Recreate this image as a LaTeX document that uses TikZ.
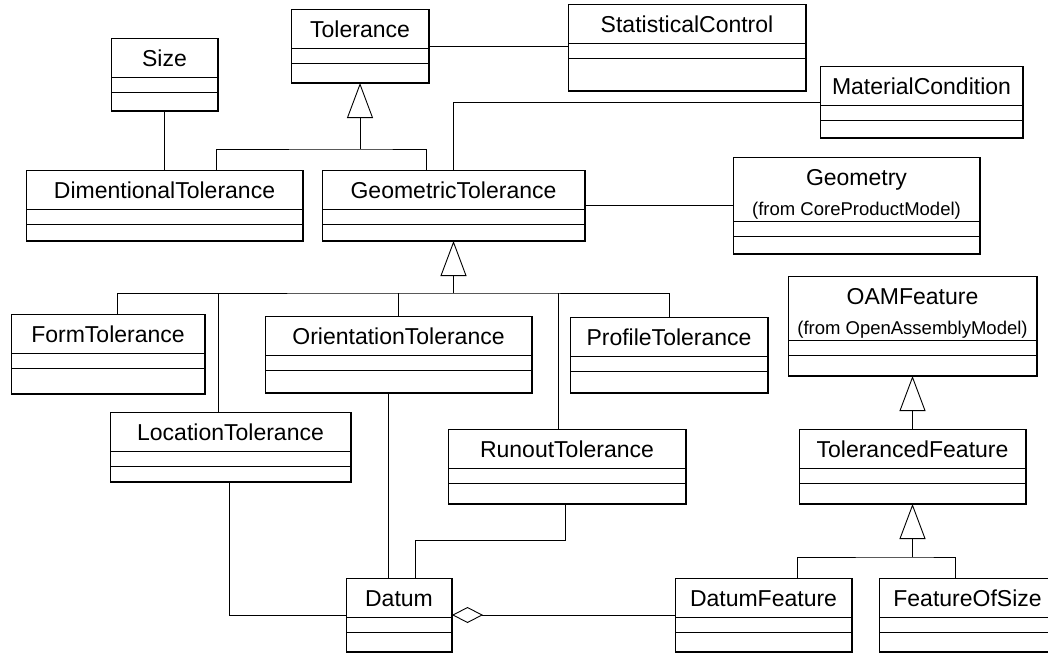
\documentclass[tikz,border=0pt]{standalone}
\usepackage{fontspec}
\setmainfont{Liberation Sans}
\usetikzlibrary{arrows.meta,positioning,calc}

\tikzset{
  classbox/.style={draw, line width=0.9pt, anchor=north west, inner sep=0pt, outer sep=0pt},
  classname/.style={font=\fontsize{23}{27}\selectfont, inner sep=0pt, anchor=base},
  fromname/.style={font=\fontsize{18.5}{22}\selectfont, inner sep=0pt, anchor=base},
  assoc/.style={line width=0.9pt},
  gen/.style={line width=0.9pt, -{Triangle[open, length=35pt, width=26pt]}},
  aggr/.style={line width=0.9pt, {Diamond[open, length=31pt, width=16pt]}-},
}

\begin{document}
\begin{tikzpicture}[x=1pt, y=-1pt]
    \useasboundingbox (0,0) rectangle (1048,653);

    % Classes: name/left/top/width/height/title
    \foreach \nm/\x/\y/\w/\h/\txt in {
        tol/291/9/138/74/Tolerance,
        stat/568/4/238/87/StatisticalControl,
        size/111/38/107/73/Size,
        mat/820/66/203/72/MaterialCondition,
        dim/26/170/277/71/DimentionalTolerance,
        geo/322/170/263/71/GeometricTolerance,
        form/11/314/194/80/FormTolerance,
        orient/265/316/267/77/OrientationTolerance,
        prof/570/317/198/76/ProfileTolerance,
        loc/110/412/241/70/LocationTolerance,
        run/448/429/238/75/RunoutTolerance,
        tfeat/799/429/227/75/TolerancedFeature,
        datum/346/578/106/74/Datum,
        dfeat/675/578/177/74/DatumFeature,
        fos/879/578/177/74/FeatureOfSize} {
        \node[classbox, minimum width=\w pt, minimum height=\h pt] (\nm) at (\x,\y) {};
        \draw[line width=1.6pt] (\nm.south west) -- (\nm.south east) -- (\nm.north east);
        \draw[line width=0.8pt] ($(\nm.north west)+(0,39.5)$) -- ($(\nm.north east)+(0,39.5)$);
        \draw[line width=0.8pt] ($(\nm.north west)+(0,54)$) -- ($(\nm.north east)+(0,54)$);
        \node[classname] (\nm-name) at ($(\nm.north)+(0,28.5)$) {\txt};
    }

    % Classes from other models
    \foreach \nm/\x/\y/\w/\h/\txt/\pkg in {
        geom/733/157/247/97/Geometry/CoreProductModel,
        oam/788/276/249/100/OAMFeature/OpenAssemblyModel} {
        \node[classbox, minimum width=\w pt, minimum height=\h pt] (\nm) at (\x,\y) {};
        \draw[line width=1.6pt] (\nm.south west) -- (\nm.south east) -- (\nm.north east);
        \draw[line width=0.8pt] ($(\nm.north west)+(0,64.5)$) -- ($(\nm.north east)+(0,64.5)$);
        \draw[line width=0.8pt] ($(\nm.north west)+(0,79.5)$) -- ($(\nm.north east)+(0,79.5)$);
        \node[classname] (\nm-name) at ($(\nm.north)+(0,28.5)$) {\txt};
        \node[fromname] (\nm-from) at ($(\nm.north)+(0,58)$) {(from \pkg)};
    }

    % Associations
    \draw[assoc] (tol.east) -- (tol.east -| stat.west);
    \draw[assoc] (size.south) -- (dim.north -| size.south);
    \draw[assoc] (geo.north) |- (mat.west);
    \draw[assoc] (geo.east) -- (geo.east -| geom.west);

    % Generalization to Tolerance
    \coordinate (tjoin) at ($(tol.south)+(0,66)$);
    \coordinate (dimup) at ($(dim.north west)+(190,0)$);
    \coordinate (geoup) at ($(geo.north west)+(104,0)$);
    \draw[assoc] (dimup) |- (tjoin) -| (geoup);
    \draw[gen] (tjoin) -- (tol.south);

    % Generalization to GeometricTolerance
    \coordinate (gjoin) at ($(geo.south)+(0,52)$);
    \coordinate (formup) at ($(form.north west)+(106,0)$);
    \coordinate (locup) at ($(loc.north west)+(108,0)$);
    \coordinate (runup) at ($(run.north west)+(110,0)$);
    \draw[assoc] (formup) |- (gjoin) -| (prof.north);
    \foreach \c in {locup, orient.north, runup}
        \draw[assoc] (\c) -- (\c |- gjoin);
    \draw[gen] (gjoin) -- (geo.south);

    % Features
    \draw[gen] (tfeat.north) -- (oam.south);
    \coordinate (fjoin) at ($(tfeat.south)+(0,53)$);
    \coordinate (dfeatup) at ($(dfeat.north west)+(122,0)$);
    \coordinate (fosup) at ($(fos.north west)+(76,0)$);
    \draw[assoc] (dfeatup) |- (fjoin) -| (fosup);
    \draw[gen] (fjoin) -- (tfeat.south);

    % Datum
    \coordinate (locdown) at ($(loc.south west)+(119,0)$);
    \coordinate (orientdown) at ($(orient.south west)+(123,0)$);
    \coordinate (rundown) at ($(run.south west)+(117,0)$);
    \coordinate (datumup) at ($(datum.north west)+(69,0)$);
    \draw[assoc] (locdown) |- (datum.west);
    \draw[assoc] (orientdown) -- (orientdown |- datum.north);
    \draw[assoc] (rundown) -- ($(rundown)+(0,36)$) -| (datumup);
    \draw[aggr] (datum.east) -- (dfeat.west);
\end{tikzpicture}
\end{document}
